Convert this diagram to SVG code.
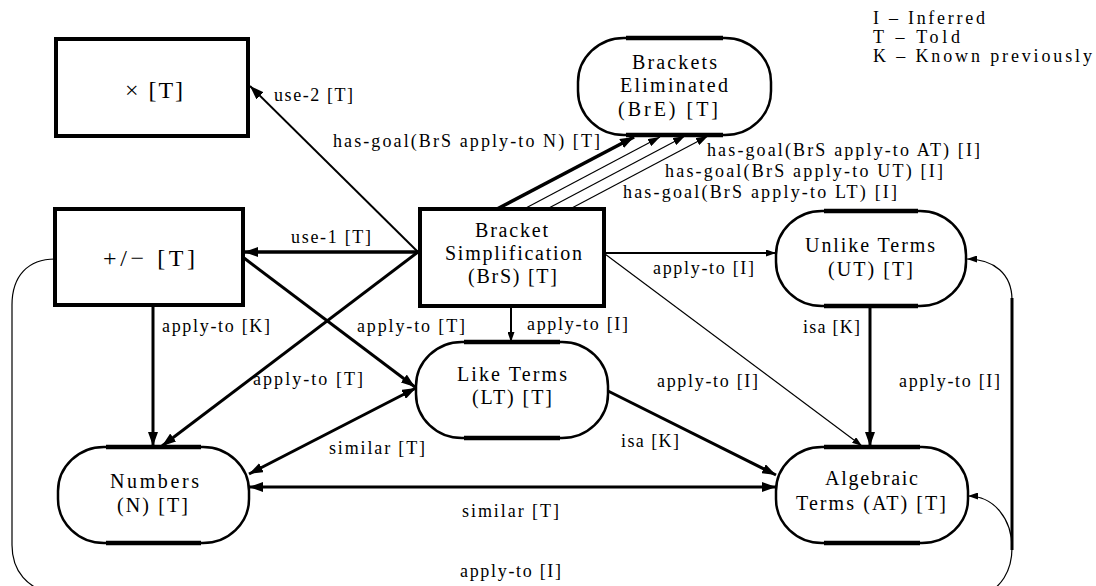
<svg xmlns="http://www.w3.org/2000/svg" width="1096" height="586" viewBox="0 0 1096 586">
<style>
.bx{fill:#fff;stroke:#000;stroke-width:4}
.rn{fill:#fff;stroke:#000;stroke-width:2.5}
.fl{stroke:#000;stroke-width:4.5}
.t{font-family:"Liberation Serif","Times New Roman",serif;font-size:20px;fill:#000}
.e{font-size:18px}
.g{font-size:24px}
.c{fill:none;stroke:#000}
.w4{stroke-width:3.5}
.w3{stroke-width:3}
.w2{stroke-width:2}
.w1{stroke-width:1.2}
</style>
<defs>
<marker id="big" viewBox="0 0 14 10" refX="14" refY="5" markerWidth="14" markerHeight="10" markerUnits="userSpaceOnUse" orient="auto-start-reverse"><path d="M0,0L14,5L0,10z"/></marker>
<marker id="med" viewBox="0 0 12 8" refX="12" refY="4" markerWidth="12" markerHeight="8" markerUnits="userSpaceOnUse" orient="auto"><path d="M0,0L12,4L0,8z"/></marker>
<marker id="sm" viewBox="0 0 10 7" refX="10" refY="3.5" markerWidth="10" markerHeight="7" markerUnits="userSpaceOnUse" orient="auto"><path d="M0,0L10,3.5L0,7z"/></marker>
</defs>
<rect width="1096" height="586" fill="#fff"/>

<g id="legend" class="t e">
<text x="873" y="24" textLength="112" lengthAdjust="spacing">I – Inferred</text>
<text x="873" y="43" textLength="87" lengthAdjust="spacing">T – Told</text>
<text x="873" y="62" textLength="219" lengthAdjust="spacing">K – Known previously</text>
</g>

<g id="node-times">
<rect class="bx" x="56" y="39" width="192" height="97"/>
<text class="t g" x="125" y="98" textLength="58" lengthAdjust="spacing">× [T]</text>
</g>
<g id="node-plusminus">
<rect class="bx" x="55" y="209" width="188" height="96"/>
<text class="t g" x="103" y="266" textLength="92" lengthAdjust="spacing">+/− [T]</text>
</g>
<g id="node-BrS">
<rect class="bx" x="420" y="209" width="184" height="97"/>
<text class="t" x="475" y="237" textLength="73" lengthAdjust="spacing">Bracket</text>
<text class="t" x="445" y="260" textLength="137" lengthAdjust="spacing">Simplification</text>
<text class="t" x="468" y="283" textLength="89" lengthAdjust="spacing">(BrS) [T]</text>
</g>
<g id="node-BrE">
<rect class="rn" x="578" y="38" width="193" height="97" rx="46" ry="44"/>
<path class="fl" d="M626 38H723M626 135H723"/>
<text class="t" x="632" y="69" textLength="85" lengthAdjust="spacing">Brackets</text>
<text class="t" x="620" y="92" textLength="108" lengthAdjust="spacing">Eliminated</text>
<text class="t" x="618" y="116" textLength="100" lengthAdjust="spacing">(BrE) [T]</text>
</g>
<g id="node-UT">
<rect class="rn" x="776" y="211" width="190" height="95" rx="46" ry="44"/>
<path class="fl" d="M824 211H918M824 306H918"/>
<text class="t" x="805" y="252" textLength="130" lengthAdjust="spacing">Unlike Terms</text>
<text class="t" x="828" y="276" textLength="85" lengthAdjust="spacing">(UT) [T]</text>
</g>
<g id="node-LT">
<rect class="rn" x="416" y="342" width="192" height="96" rx="46" ry="44"/>
<path class="fl" d="M464 342H560M464 438H560"/>
<text class="t" x="457" y="381" textLength="110" lengthAdjust="spacing">Like Terms</text>
<text class="t" x="472" y="404" textLength="80" lengthAdjust="spacing">(LT) [T]</text>
</g>
<g id="node-N">
<rect class="rn" x="58" y="447" width="191" height="96" rx="46" ry="44"/>
<path class="fl" d="M106 447H201M106 543H201"/>
<text class="t" x="110" y="488" textLength="89" lengthAdjust="spacing">Numbers</text>
<text class="t" x="117" y="512" textLength="71" lengthAdjust="spacing">(N) [T]</text>
</g>
<g id="node-AT">
<rect class="rn" x="776" y="447" width="192" height="96" rx="46" ry="44"/>
<path class="fl" d="M824 447H920M824 543H920"/>
<text class="t" x="825" y="485" textLength="93" lengthAdjust="spacing">Algebraic</text>
<text class="t" x="796" y="510" textLength="150" lengthAdjust="spacing">Terms (AT) [T]</text>
</g>

<g id="connectors">
<path class="c w2" d="M418 252L250 86" marker-end="url(#big)"/>
<path class="c w4" d="M420 252L244 252" marker-end="url(#big)"/>
<path class="c w3" d="M418 252L162 446" marker-end="url(#big)"/>
<path class="c w3" d="M244 258L415 387" marker-end="url(#big)"/>
<path class="c w3" d="M153 306L153 446" marker-end="url(#big)"/>
<path class="c w3" d="M416 388L249 474" marker-start="url(#big)" marker-end="url(#big)"/>
<path class="c w3" d="M249 487L776 487" marker-start="url(#big)" marker-end="url(#big)"/>
<path class="c w3" d="M608 391L776 475" marker-end="url(#big)"/>
<path class="c w1" d="M605 254L862 446" marker-end="url(#sm)"/>
<path class="c w2" d="M604 253L776 253" marker-end="url(#sm)"/>
<path class="c w2" d="M511 306L511 342" marker-end="url(#sm)"/>
<path class="c w3" d="M870 306L870 446" marker-end="url(#big)"/>
<path class="c w4" d="M497 209L634 137" marker-end="url(#big)"/>
<path class="c w1" d="M524 209L660 137" marker-end="url(#med)"/>
<path class="c w1" d="M547 209L685 136" marker-end="url(#med)"/>
<path class="c w1" d="M570 209L708 136" marker-end="url(#med)"/>
<path class="c w3" d="M1012 298L1012 550"/>
<path class="c w1" d="M1012 300C1012 274 994 259 967 259" marker-end="url(#sm)"/>
<path class="c w1" d="M55 259C28 259 12 276 12 305L12 545C12 572 28 588 52 594L985 594C1000 588 1012 572 1012 548C1012 519 994 496 968 496" marker-end="url(#sm)"/>
</g>

<g id="labels" class="t e">
<text x="274" y="101" textLength="79" lengthAdjust="spacing">use-2 [T]</text>
<text x="333" y="147" textLength="267" lengthAdjust="spacing">has-goal(BrS apply-to N) [T]</text>
<text x="707" y="156" textLength="273" lengthAdjust="spacing">has-goal(BrS apply-to AT) [I]</text>
<text x="665" y="177" textLength="278" lengthAdjust="spacing">has-goal(BrS apply-to UT) [I]</text>
<text x="623" y="198" textLength="274" lengthAdjust="spacing">has-goal(BrS apply-to LT) [I]</text>
<text x="291" y="243" textLength="80" lengthAdjust="spacing">use-1 [T]</text>
<text x="653" y="274" textLength="101" lengthAdjust="spacing">apply-to [I]</text>
<text x="162" y="332" textLength="108" lengthAdjust="spacing">apply-to [K]</text>
<text x="357" y="332" textLength="108" lengthAdjust="spacing">apply-to [T]</text>
<text x="527" y="330" textLength="101" lengthAdjust="spacing">apply-to [I]</text>
<text x="803" y="333" textLength="57" lengthAdjust="spacing">isa [K]</text>
<text x="253" y="385" textLength="110" lengthAdjust="spacing">apply-to [T]</text>
<text x="657" y="387" textLength="101" lengthAdjust="spacing">apply-to [I]</text>
<text x="899" y="387" textLength="101" lengthAdjust="spacing">apply-to [I]</text>
<text x="329" y="454" textLength="96" lengthAdjust="spacing">similar [T]</text>
<text x="621" y="447" textLength="58" lengthAdjust="spacing">isa [K]</text>
<text x="462" y="517" textLength="97" lengthAdjust="spacing">similar [T]</text>
<text x="460" y="577" textLength="101" lengthAdjust="spacing">apply-to [I]</text>
</g>
</svg>
